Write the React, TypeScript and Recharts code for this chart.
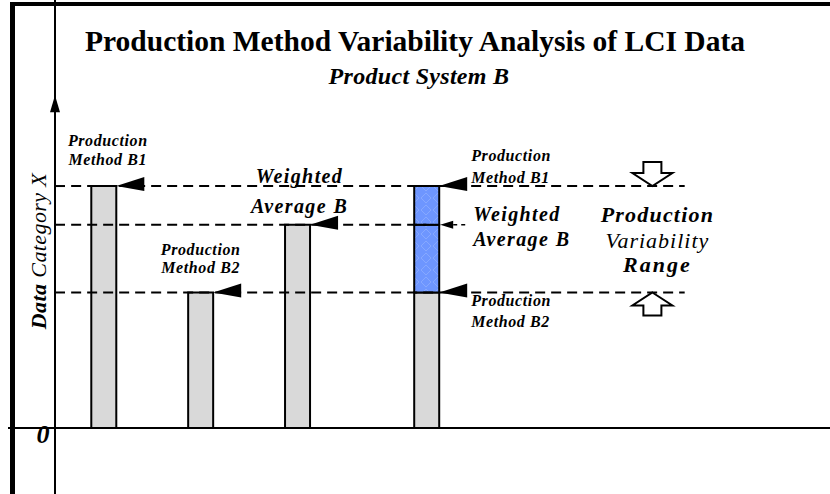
import React from "react";
import {
  ComposedChart, Bar, XAxis, YAxis, ReferenceLine, ReferenceDot, LabelList,
} from "recharts";

// values (Data Category X, arbitrary units)
const methodNames = ["Production Method B1", "Production Method B2", "Weighted Average B"];
const methodValues = [100, 56, 84];
const rangeNames = ["Production Method B2", "Weighted Average B", "Production Method B1"];
const rangeValues = [56, 84, 100];
const yTickValues = [0];
const noteLines = ["Production", "Variability", "Range"];
const titleText = "Production Method Variability Analysis of LCI Data";
const subtitleText = "Product System B";
const yAxisTitle = ["Data", "Category X"];

// layout
const SLOT_COUNT = 24;
const METHOD_SLOTS = [1, 4, 7];
const RANGE_SLOT = 11;
const NOTE_SLOT = 18;
const LINE_END_SLOT = 19;
const ARROW_TICK = 130.5;
const Y_DOMAIN: [number, number] = [-27.3, 176.9];
const FONT = '"Liberation Serif", "Times New Roman", serif';

const slotName = (i: number) => `s${i}`;
const methodTags = ["B1", "B2", "W"];

const rows = Array.from({ length: SLOT_COUNT }, (_, i) => ({
  slot: slotName(i),
  base: null as number | null,
  low: null as number | null,
  high: null as number | null,
  tagBase: null as string | null,
  tagLow: null as string | null,
  tagHigh: null as string | null,
}));
METHOD_SLOTS.forEach((s, j) => {
  rows[s].base = methodValues[j];
  rows[s].tagBase = methodTags[j];
});
rows[RANGE_SLOT].base = rangeValues[0];
rows[RANGE_SLOT].low = rangeValues[1] - rangeValues[0];
rows[RANGE_SLOT].high = rangeValues[2] - rangeValues[1];
rows[RANGE_SLOT].tagBase = "rB2";
rows[RANGE_SLOT].tagLow = "rW";
rows[RANGE_SLOT].tagHigh = "rB1";

const split = (s: string) => {
  const k = s.indexOf(" ");
  return [s.slice(0, k), s.slice(k + 1)];
};

const textStyle = (size: number, spacing = 0, weight: "bold" | "normal" = "bold") => ({
  fontFamily: FONT,
  fontWeight: weight,
  fontStyle: "italic" as const,
  fontSize: size,
  fill: "#000",
  style: { letterSpacing: spacing },
});

const solidArrow = (xr: number, y: number) => (
  <path d={`M${xr} ${y} L${xr + 28} ${y - 9} L${xr + 28} ${y + 5} Z`} fill="#000" />
);

const SMALL = [16, 0.6] as const;
const LARGE = [20, 1.4] as const;

function renderMarker(props: any) {
  const { x, y, width, value } = props;
  if (!value) return null;
  const xr = x + width;
  const cx = x + width / 2;
  const two = (lines: string[], tx: number, y1: number, y2: number, f: readonly [number, number], anchor: string) => (
    <g>
      <text x={tx} y={y1} textAnchor={anchor} {...textStyle(f[0], f[1])}>{lines[0]}</text>
      <text x={tx} y={y2} textAnchor={anchor} {...textStyle(f[0], f[1])}>{lines[1]}</text>
    </g>
  );
  switch (value) {
    case "B1":
      return <g>{solidArrow(xr, y)}{two(split(methodNames[0]), cx + 4, y - 40, y - 21, SMALL, "middle")}</g>;
    case "B2":
      return <g>{solidArrow(xr, y)}{two(split(methodNames[1]), cx, y - 37, y - 19, SMALL, "middle")}</g>;
    case "W":
      return <g>{solidArrow(xr, y)}{two(split(methodNames[2]), cx + 2, y - 42, y - 12, LARGE, "middle")}</g>;
    case "rB1":
      return <g>{solidArrow(xr, y)}{two(split(rangeNames[2]), xr + 32, y - 25, y - 3, SMALL, "start")}</g>;
    case "rB2":
      return <g>{solidArrow(xr, y)}{two(split(rangeNames[0]), xr + 32, y + 14, y + 35, SMALL, "start")}</g>;
    case "rW":
      return (
        <g>
          <path d={`M${xr + 1} ${y} L${xr + 14} ${y - 4} L${xr + 14} ${y + 4} Z`} fill="#000" />
          <line x1={xr + 14} x2={xr + 30} y1={y} y2={y} stroke="#000" strokeWidth={1.5} strokeDasharray="4 4" />
          {two(split(rangeNames[1]), xr + 34, y - 4, y + 21, LARGE, "start")}
        </g>
      );
    default:
      return null;
  }
}

function AxisTick(props: any) {
  const { x, y, payload } = props;
  const v = payload.value;
  if (v === 0) {
    return (
      <g>
        <line x1={8} x2={x} y1={y} y2={y} stroke="#000" strokeWidth={2} />
        <text x={x - 12} y={y + 15} textAnchor="middle" {...textStyle(26)}>0</text>
      </g>
    );
  }
  if (v === ARROW_TICK) {
    return <path d={`M${x} ${y - 17} L${x + 5} ${y} L${x - 5} ${y} Z`} fill="#000" />;
  }
  return <line x1={x} x2={x + 10} y1={y} y2={y} stroke="#000" strokeWidth={2} />;
}

function renderYLabel(props: any) {
  const vb = props.viewBox || { x: 0, y: 0, width: 55, height: 494 };
  const tx = vb.x + vb.width - 17;
  const ty = vb.y + vb.height / 2 + 4;
  return (
    <text
      x={tx}
      y={ty}
      transform={`rotate(-90 ${tx} ${ty})`}
      textAnchor="middle"
      dominantBaseline="central"
      fontFamily={FONT}
      fontStyle="italic"
      fontSize={22}
      fill="#000"
      style={{ letterSpacing: 0.4 }}
    >
      <tspan fontWeight="bold">{yAxisTitle[0]}</tspan>
      <tspan> {yAxisTitle[1]}</tspan>
    </text>
  );
}

const downArrow = (p: any) => {
  const { cx, cy } = p;
  const pts = [
    [cx - 9, cy - 24], [cx + 9, cy - 24], [cx + 9, cy - 13], [cx + 20, cy - 13],
    [cx, cy], [cx - 20, cy - 13], [cx - 9, cy - 13],
  ];
  return <polygon points={pts.map((q) => q.join(",")).join(" ")} fill="#fff" stroke="#000" strokeWidth={2} />;
};

const upArrow = (p: any) => {
  const { cx, cy } = p;
  const pts = [
    [cx, cy], [cx + 20, cy + 13], [cx + 9, cy + 13], [cx + 9, cy + 23],
    [cx - 9, cy + 23], [cx - 9, cy + 13], [cx - 20, cy + 13],
  ];
  return <polygon points={pts.map((q) => q.join(",")).join(" ")} fill="#fff" stroke="#000" strokeWidth={2} />;
};

const noteBlock = (p: any) => {
  const { cx, cy } = p;
  const x = cx + 5;
  return (
    <g>
      <text x={x} y={cy - 3} textAnchor="middle" {...textStyle(22, 1.2)}>{noteLines[0]}</text>
      <text x={x} y={cy + 23} textAnchor="middle" {...textStyle(22, 1, "normal")}>{noteLines[1]}</text>
      <text x={x} y={cy + 47} textAnchor="middle" {...textStyle(22, 2)}>{noteLines[2]}</text>
    </g>
  );
};

const dash = { stroke: "#000", strokeWidth: 2, strokeDasharray: "10 6" };

export default function App() {
  return (
    <div style={{ position: "fixed", left: 0, top: 0, width: 830, height: 494, background: "#fff", overflow: "hidden" }}>
      <svg width={0} height={0} style={{ position: "absolute" }}>
        <defs>
          <pattern id="bluePat" width="12" height="12" patternUnits="userSpaceOnUse">
            <rect width="12" height="12" fill="#6e96ff" />
            <path d="M6 1 L11 6 L6 11 L1 6 Z" fill="none" stroke="#86a8ff" strokeWidth="1" />
          </pattern>
        </defs>
      </svg>
      <div style={{ position: "absolute", left: 0, top: 0 }}>
        <ComposedChart width={830} height={494} data={rows} margin={{ top: 0, right: 0, bottom: 0, left: 0 }}>
          <XAxis dataKey="slot" hide />
          <YAxis
            width={55}
            domain={Y_DOMAIN}
            allowDataOverflow
            ticks={[...yTickValues, ...rangeValues, ARROW_TICK]}
            interval={0}
            tickSize={0}
            tickMargin={0}
            tickLine={false}
            tick={AxisTick}
            axisLine={{ stroke: "#000", strokeWidth: 2 }}
            label={renderYLabel}
          />
          <ReferenceLine y={0} stroke="#000" strokeWidth={2} />
          <ReferenceLine segment={[{ x: slotName(0), y: rangeValues[2] }, { x: slotName(LINE_END_SLOT), y: rangeValues[2] }]} {...dash} />
          <ReferenceLine segment={[{ x: slotName(0), y: rangeValues[1] }, { x: slotName(RANGE_SLOT), y: rangeValues[1] }]} {...dash} />
          <ReferenceLine segment={[{ x: slotName(0), y: rangeValues[0] }, { x: slotName(LINE_END_SLOT), y: rangeValues[0] }]} {...dash} />
          <Bar dataKey="base" stackId="s" barSize={25} fill="#d9d9d9" stroke="#000" strokeWidth={2} isAnimationActive={false}>
            <LabelList dataKey="tagBase" content={renderMarker} />
          </Bar>
          <Bar dataKey="low" stackId="s" barSize={25} fill="url(#bluePat)" stroke="#000" strokeWidth={2} isAnimationActive={false}>
            <LabelList dataKey="tagLow" content={renderMarker} />
          </Bar>
          <Bar dataKey="high" stackId="s" barSize={25} fill="url(#bluePat)" stroke="#000" strokeWidth={2} isAnimationActive={false}>
            <LabelList dataKey="tagHigh" content={renderMarker} />
          </Bar>
          <ReferenceDot x={slotName(NOTE_SLOT)} y={rangeValues[2]} shape={downArrow} />
          <ReferenceDot x={slotName(NOTE_SLOT)} y={rangeValues[0]} shape={upArrow} />
          <ReferenceDot x={slotName(NOTE_SLOT)} y={rangeValues[1]} shape={noteBlock} />
        </ComposedChart>
      </div>
      <svg width={830} height={494} style={{ position: "absolute", left: 0, top: 0, pointerEvents: "none" }}>
        <rect x={10} y={2} width={820} height={4} fill="#000" />
        <rect x={10} y={2} width={5} height={492} fill="#000" />
        <text x={415} y={51} textAnchor="middle" fontFamily={FONT} fontWeight="bold" fontSize={29.5} fill="#000">{titleText}</text>
        <text x={419} y={84} textAnchor="middle" {...textStyle(24, 0.3)}>{subtitleText}</text>
      </svg>
    </div>
  );
}
